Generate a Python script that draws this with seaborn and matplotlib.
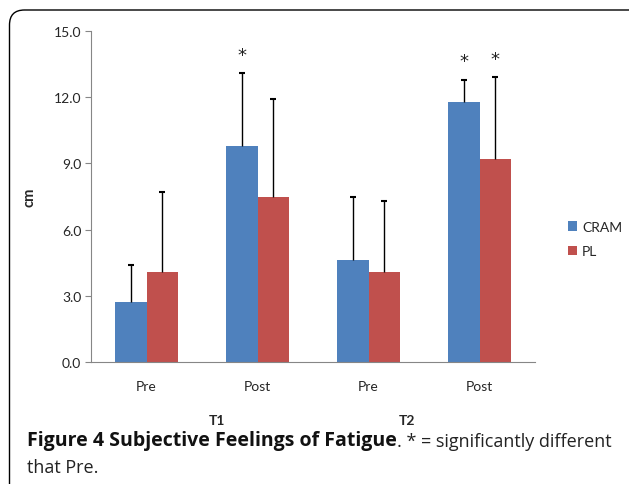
import seaborn as sns
import matplotlib.pyplot as plt
import pandas as pd
from matplotlib.patches import FancyBboxPatch

# values
categories = ["T1 Pre", "T1 Post", "T2 Pre", "T2 Post"]
phase_labels = ["Pre", "Post", "Pre", "Post"]
time_labels = ["T1", "T2"]
groups = ["CRAM", "PL"]
cram_mean = [2.7, 9.8, 4.6, 11.8]
pl_mean = [4.1, 7.5, 4.1, 9.2]
cram_sd = [1.7, 3.3, 2.9, 1.0]
pl_sd = [3.6, 4.4, 3.2, 3.7]
# (group, category index) marked as significant
stars = [("CRAM", 1), ("CRAM", 3), ("PL", 3)]
y_ticks = [0, 3, 6, 9, 12, 15]

colors = {"CRAM": "#4F81BD", "PL": "#C0504D"}

df = pd.DataFrame({
    "cat": categories * 2,
    "group": ["CRAM"] * 4 + ["PL"] * 4,
    "value": cram_mean + pl_mean,
})
sds = {"CRAM": cram_sd, "PL": pl_sd}

sns.set_style("white")
plt.rcParams["font.family"] = ["Lato", "DejaVu Sans"]

fig = plt.figure(figsize=(6.29, 4.85), dpi=100)
ax = fig.add_axes([91 / 629, 1 - 363 / 485, 444 / 629, 331 / 485])

sns.barplot(data=df, x="cat", y="value", hue="group", order=categories,
            hue_order=groups, palette=colors, width=0.57, saturation=1,
            edgecolor="none", ax=ax)

# upper-only error bars (cap at top only) and significance marks
tops = {}
for g, cont in zip(groups, ax.containers):
    xs = [b.get_x() + b.get_width() / 2 for b in cont]
    hs = [b.get_height() for b in cont]
    ups = [h + s for h, s in zip(hs, sds[g])]
    ax.vlines(xs, hs, ups, color="black", linewidth=1)
    ax.plot(xs, ups, marker="_", linestyle="none", markersize=5,
            markeredgewidth=1.5, color="black")
    tops[g] = list(zip(xs, ups))

for g, i in stars:
    x, y = tops[g][i]
    ax.annotate("*", (x, y), xytext=(0, 13), textcoords="offset points",
                ha="center", va="center", fontsize=13,
                family=["DejaVu Sans"], color="#222222")

ax.set_xlim(-0.5, 3.5)
ax.set_ylim(0, 15)
ax.set_yticks(y_ticks)
ax.set_yticklabels([f"{v:.1f}" for v in y_ticks], fontsize=10)
ax.set_xticks(range(4))
ax.set_xticklabels(phase_labels, fontsize=10)
ax.set_xticks([-0.5, 0.5, 1.5, 2.5, 3.5], minor=True)
ax.tick_params(axis="x", which="major", length=0, pad=13)
ax.tick_params(axis="x", which="minor", length=4, color="#868686", direction="out")
ax.tick_params(axis="y", length=4, color="#868686", direction="out", pad=3,
               left=True)
ax.set_xlabel("")
ax.set_ylabel("cm", fontsize=10.5, fontweight="bold")
ax.yaxis.set_label_coords(-0.122, 0.5)
sns.despine(ax=ax)
for s in ["left", "bottom"]:
    ax.spines[s].set_color("#868686")
    ax.spines[s].set_linewidth(0.8)

for lbl, xf in zip(time_labels, [0.284, 0.712]):
    ax.text(xf, -58 / 331, lbl, transform=ax.transAxes, ha="center",
            va="center", fontsize=10, fontweight="bold")

handles, labels = ax.get_legend_handles_labels()
ax.legend(handles, labels, loc="center left", frameon=False,
          bbox_to_anchor=(555 / 629, 1 - 240 / 485),
          bbox_transform=fig.transFigure, handlelength=0.7, handleheight=0.7,
          handletextpad=0.35, labelspacing=0.9, fontsize=10)

# caption
cap = fig.text(27 / 629, 1 - 441 / 485, "Figure 4 Subjective Feelings of Fatigue",
               fontsize=14, fontweight="bold", family=["Open Sans", "DejaVu Sans"],
               va="center", color="#111111")
fig.text(27 / 629, 1 - 468 / 485, "that Pre.", fontsize=13,
         family=["Open Sans", "DejaVu Sans"], va="center", color="#222222")
ax.annotate(". * = significantly different", xy=(1, 0), xycoords=cap,
            ha="left", va="bottom", fontsize=13,
            family=["Open Sans", "DejaVu Sans"], color="#222222",
            annotation_clip=False)

# rounded frame (top and left edges visible)
frame = FancyBboxPatch((0.095, -0.5), 6.5, 4.74 + 0.5,
                       boxstyle="round,pad=0,rounding_size=0.15",
                       transform=fig.dpi_scale_trans, fill=False,
                       edgecolor="black", linewidth=1)
fig.patches.append(frame)

fig.savefig("out.png", dpi=100)
